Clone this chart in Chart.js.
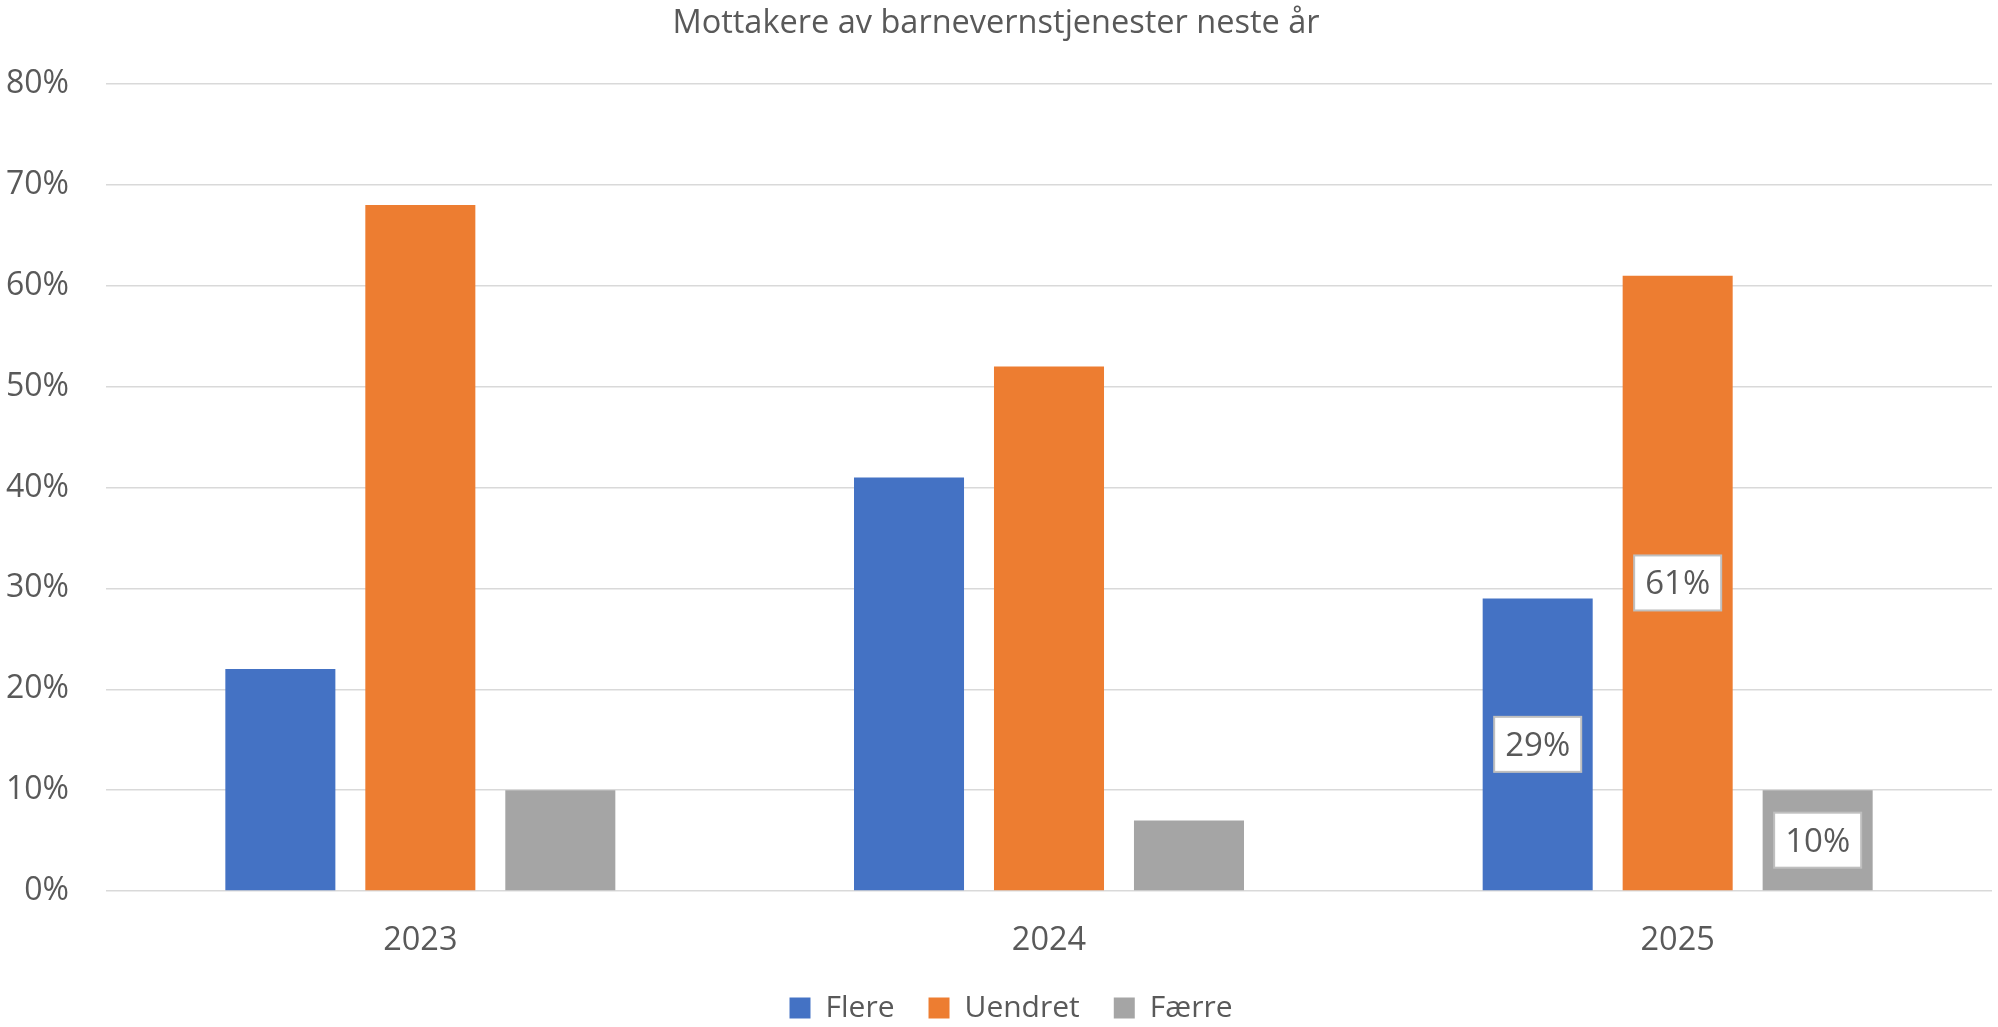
<!DOCTYPE html>
<html>
<head>
<meta charset="utf-8">
<script src="https://cdn.jsdelivr.net/npm/chart.js@4/dist/chart.umd.min.js"></script>
<style>
  html, body { margin: 0; padding: 0; background: #ffffff; }
  #wrap { width: 1998px; height: 1027px; }
</style>
</head>
<body>
<div id="wrap"><canvas id="c" width="1998" height="1027"></canvas></div>
<script>
// ---- Data ----
const chartTitle = 'Mottakere av barnevernstjenester neste år';
const categories = ['2023', '2024', '2025'];
const seriesNames = ['Flere', 'Uendret', 'Færre'];
const flere   = [22, 41, 29];
const uendret = [68, 52, 61];
const faerre  = [10, 7, 10];
const yTicks  = [0, 10, 20, 30, 40, 50, 60, 70, 80];
const labelledCategories = [2]; // data labels shown only for 2025

// ---- Styles ----
const colors = ['#4472C4', '#ED7D31', '#A5A5A5'];
const textColor = '#595959';
const gridColor = '#D9D9D9';
const fontFamily = '"Open Sans", "Noto Sans", sans-serif';

const seriesValues = [flere, uendret, faerre];

const PLOT_BOTTOM = 891;
const LEGEND_CENTER = 1008;
const LEGEND_PAD = 34;
const LEGEND_FONT = 30;
const LEGEND_XSHIFT = 15;

const labelPlugin = {
  id: 'boxLabels',
  afterDatasetsDraw(chart) {
    const ctx = chart.ctx;
    ctx.save();
    ctx.font = '33px ' + fontFamily;
    ctx.textAlign = 'center';
    ctx.textBaseline = 'middle';
    chart.data.datasets.forEach((ds, i) => {
      const meta = chart.getDatasetMeta(i);
      labelledCategories.forEach(j => {
        const el = meta.data[j];
        if (!el) return;
        const text = ds.data[j] + '%';
        const cy = (el.y + el.base) / 2;
        const cx = el.x;
        const tw = ctx.measureText(text).width;
        const w = tw + 22;
        const h = 55;
        ctx.fillStyle = '#FFFFFF';
        ctx.fillRect(cx - w / 2, cy - h / 2, w, h);
        ctx.strokeStyle = '#BFBFBF';
        ctx.lineWidth = 2;
        ctx.strokeRect(cx - w / 2, cy - h / 2, w, h);
        ctx.fillStyle = textColor;
        ctx.fillText(text, cx, cy + 2);
      });
    });
    ctx.restore();
  }
};

const legendShift = {
  id: 'legendShift',
  afterLayout(chart) {
    const lg = chart.legend;
    if (!lg) return;
    const h = lg.height;
    lg.top = LEGEND_CENTER - LEGEND_PAD - LEGEND_FONT / 2;
    lg.bottom = lg.top + h;
    lg.left += LEGEND_XSHIFT;
    lg.right += LEGEND_XSHIFT;
  }
};

new Chart(document.getElementById('c'), {
  type: 'bar',
  data: {
    labels: categories,
    datasets: seriesNames.map((name, i) => ({
      label: name,
      data: seriesValues[i],
      backgroundColor: colors[i],
      borderWidth: 0,
      categoryPercentage: 0.668,
      barPercentage: 0.786
    }))
  },
  options: {
    responsive: false,
    devicePixelRatio: 1,
    animation: false,
    layout: { padding: { top: 0, right: 6, bottom: 0, left: 0 } },
    plugins: {
      title: {
        display: true,
        text: chartTitle,
        color: textColor,
        font: { family: fontFamily, size: 32.5, weight: 'normal', lineHeight: 1.2 },
        padding: { top: 4.6, bottom: 40.4 }
      },
      legend: {
        display: true,
        position: 'bottom',
        labels: {
          color: textColor,
          font: { family: fontFamily, size: LEGEND_FONT },
          boxWidth: 21,
          boxHeight: 21,
          padding: LEGEND_PAD
        }
      },
      tooltip: { enabled: false }
    },
    scales: {
      x: {
        grid: { display: false },
        border: { display: false },
        ticks: {
          color: textColor,
          font: { family: fontFamily, size: 32.5 },
          padding: 22
        },
        afterFit(scale) {
          const lgH = scale.chart.legend ? scale.chart.legend.height : 0;
          scale.height = Math.max(1027 - lgH - PLOT_BOTTOM, 0);
        }
      },
      y: {
        min: 0,
        max: 80,
        afterBuildTicks(scale) { scale.ticks = yTicks.map(v => ({ value: v })); },
        grid: { color: gridColor, lineWidth: 1.5, drawTicks: false },
        border: { display: false },
        ticks: {
          color: textColor,
          font: { family: fontFamily, size: 32 },
          padding: 37,
          callback: v => v + '%'
        },
        afterFit(scale) { scale.width = 106; }
      }
    }
  },
  plugins: [labelPlugin, legendShift]
});
</script>
</body>
</html>
